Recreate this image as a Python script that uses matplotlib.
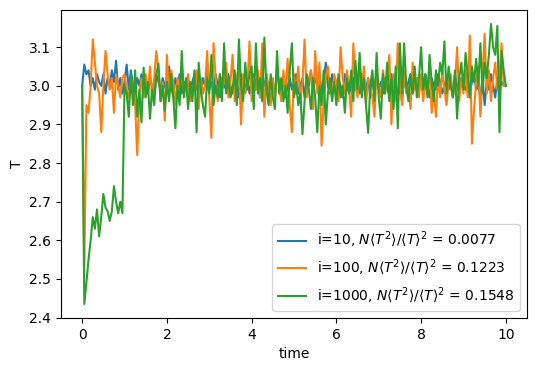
import numpy as np
from matplotlib import pyplot as plt

T_i10 = [3.00, 3.055, 3.03, 3.04, 3.00, 3.02, 2.99, 3.03, 3.01, 3.00,
         3.03, 2.98, 3.02, 3.00, 3.04, 3.01, 3.065, 2.99, 3.02, 2.98,
         3.01, 3.055, 2.99, 3.04, 3.00, 2.98, 3.02, 3.00, 3.03, 2.99,
         3.01, 2.98, 3.02, 3.00, 2.97, 3.03, 3.01, 2.99, 3.02, 3.00,
         2.98, 3.05, 3.00, 2.97, 3.02, 3.00, 3.03, 2.98, 3.01, 2.99,
         3.02, 2.97, 3.01, 3.03, 2.99, 3.00, 2.98, 3.02, 3.00, 3.04,
         2.99, 3.01, 2.98, 3.03, 3.00, 2.97, 3.02, 3.00, 2.99, 3.03,
         3.00, 2.98, 3.02, 3.01, 2.97, 3.03, 3.00, 2.99, 3.02, 2.98,
         3.01, 3.03, 2.99, 3.00, 2.97, 3.02, 3.00, 3.03, 2.98, 3.01,
         3.00, 2.98, 3.03, 3.01, 2.99, 3.02, 2.97, 3.00, 3.02, 2.99,
         3.01, 3.03, 2.98, 3.00, 3.02, 2.97, 3.01, 3.00, 3.04, 2.99,
         3.02, 3.00, 3.04, 2.98, 3.01, 3.06, 3.00, 2.98, 3.03, 3.00,
         2.99, 3.02, 3.00, 2.97, 3.03, 3.01, 2.98, 3.00, 3.02, 2.99,
         3.01, 2.98, 3.03, 3.00, 2.99, 3.02, 2.97, 3.01, 3.00, 3.03,
         2.99, 3.01, 2.98, 3.02, 3.00, 2.97, 3.03, 2.99, 3.01, 2.97,
         3.00, 2.96, 3.02, 2.99, 3.01, 3.03, 2.98, 3.00, 3.02, 2.99,
         3.01, 2.98, 3.03, 3.00, 2.97, 3.02, 3.00, 2.99, 3.03, 3.01,
         2.98, 3.00, 3.02, 2.99, 3.01, 2.97, 3.03, 3.00, 2.98, 3.02,
         3.00, 2.99, 3.02, 2.98, 3.01, 3.03, 2.99, 3.00, 2.97, 3.02,
         2.95, 3.01, 2.99, 3.03, 3.00, 2.97, 3.02, 2.99, 3.01, 3.00,
         3.00]

T_i100 = [3.00, 2.53, 2.95, 2.93, 3.00, 3.12, 3.06, 3.00, 2.98, 2.88,
          3.00, 3.09, 3.03, 2.99, 3.02, 2.93, 3.03, 3.00, 2.97, 3.02,
          3.03, 2.99, 2.97, 3.02, 3.00, 2.95, 2.82, 2.98, 3.02, 2.97,
          3.03, 2.98, 3.05, 2.97, 3.02, 3.09, 3.04, 2.96, 3.01, 2.91,
          3.08, 2.97, 3.04, 3.01, 2.95, 3.02, 2.99, 3.05, 2.98, 3.00,
          3.03, 2.96, 3.00, 2.99, 3.04, 2.94, 3.02, 2.98, 3.00, 3.09,
          2.97, 2.865, 3.11, 3.02, 2.96, 3.03, 2.99, 3.01, 3.06, 2.97,
          3.01, 3.08, 2.96, 3.02, 3.05, 2.90, 3.03, 2.98, 3.00, 3.115,
          2.96, 3.02, 2.99, 3.04, 2.97, 3.11, 2.92, 3.03, 3.00, 2.95,
          3.02, 2.97, 3.05, 3.00, 2.96, 3.04, 2.98, 3.07, 2.95, 2.88,
          3.03, 2.98, 3.05, 2.96, 3.01, 3.12, 2.97, 3.02, 3.04, 2.94,
          3.09, 2.98, 3.06, 2.845, 2.96, 3.02, 3.05, 2.99, 2.97, 3.03,
          3.01, 2.96, 3.10, 3.02, 2.98, 3.04, 2.99, 2.92, 3.11, 3.00,
          2.97, 3.03, 2.99, 3.05, 2.95, 3.02, 3.00, 2.97, 2.92, 3.04,
          3.00, 2.97, 3.04, 2.98, 3.02, 3.08, 2.90, 3.03, 2.96, 3.11,
          3.01, 2.95, 3.04, 2.98, 3.00, 2.94, 3.06, 2.99, 3.02, 2.97,
          3.03, 2.96, 3.01, 2.98, 3.05, 2.93, 2.99, 2.92, 3.02, 2.97,
          3.04, 2.99, 2.95, 3.01, 3.03, 2.97, 3.00, 3.10, 2.96, 3.02,
          2.98, 3.04, 2.97, 3.13, 2.85, 2.94, 3.01, 3.05, 2.92, 3.03,
          3.135, 2.98, 3.04, 2.96, 3.02, 3.06, 2.99, 3.03, 3.11, 3.00,
          3.00]

T_i1000 = [3.00, 2.435, 2.49, 2.55, 2.60, 2.66, 2.63, 2.68, 2.61, 2.66,
           2.72, 2.685, 2.675, 2.65, 2.675, 2.74, 2.70, 2.67, 2.70, 2.67,
           3.00, 2.98, 2.92, 3.03, 2.95, 3.04, 2.92, 2.99, 2.905, 3.047,
           2.97, 3.01, 2.915, 2.99, 2.95, 3.03, 3.057, 2.96, 3.00, 2.935,
           3.01, 2.96, 3.03, 2.97, 2.89, 3.00, 2.95, 3.09, 2.97, 3.02,
           2.94, 3.01, 2.96, 3.04, 2.88, 3.06, 2.99, 2.95, 2.92, 3.02,
           2.98, 3.08, 2.95, 3.00, 2.97, 3.03, 2.96, 3.11, 2.98, 3.02,
           2.97, 2.99, 3.04, 2.95, 3.12, 3.00, 2.96, 3.06, 2.99, 3.03,
           3.05, 2.94, 3.11, 2.98, 3.02, 2.96, 3.125, 2.99, 2.95, 3.03,
           2.97, 2.94, 3.09, 2.98, 3.02, 2.96, 3.00, 2.93, 3.04, 3.11,
           2.97, 3.01, 2.95, 2.98, 2.875, 2.96, 3.03, 2.99, 2.94, 3.02,
           2.97, 2.88, 3.00, 2.95, 3.04, 2.90, 2.98, 3.02, 2.96, 3.01,
           2.95, 3.03, 2.97, 3.00, 2.93, 3.02, 2.98, 3.04, 2.96, 3.065,
           2.99, 3.085, 2.97, 3.02, 2.95, 2.878, 3.00, 3.04, 2.96, 3.085,
           2.97, 2.915, 3.03, 2.98, 3.06, 2.96, 3.02, 2.94, 3.05, 2.89,
           3.11, 2.98, 3.11, 3.00, 2.96, 3.03, 2.98, 3.05, 2.97, 3.02,
           3.10, 2.99, 3.03, 2.97, 3.08, 3.01, 2.96, 3.04, 3.00, 3.06,
           3.03, 3.115, 2.98, 3.05, 3.00, 2.97, 3.04, 2.915, 3.02, 3.06,
           2.99, 3.085, 3.03, 2.97, 3.05, 3.01, 3.07, 3.00, 3.11, 2.98,
           3.06, 3.02, 3.08, 3.16, 3.10, 3.08, 3.155, 2.88, 3.09, 3.04,
           3.00]

labels = [r"i=10, $N\langle T^2\rangle/\langle T\rangle^2$ = 0.0077",
          r"i=100, $N\langle T^2\rangle/\langle T\rangle^2$ = 0.1223",
          r"i=1000, $N\langle T^2\rangle/\langle T\rangle^2$ = 0.1548"]

fig = plt.figure(figsize=(5.36, 3.71), dpi=100)
ax = fig.add_axes([61/536, 53/371, 466/536, 308/371])

for T, lab in zip([T_i10, T_i100, T_i1000], labels):
    time = np.linspace(0, 10, len(T))
    ax.plot(time, T, label=lab)

ax.set_xlabel("time")
ax.set_ylabel("T")
ax.legend(loc="lower right")

fig.savefig("out.png", dpi=100)
